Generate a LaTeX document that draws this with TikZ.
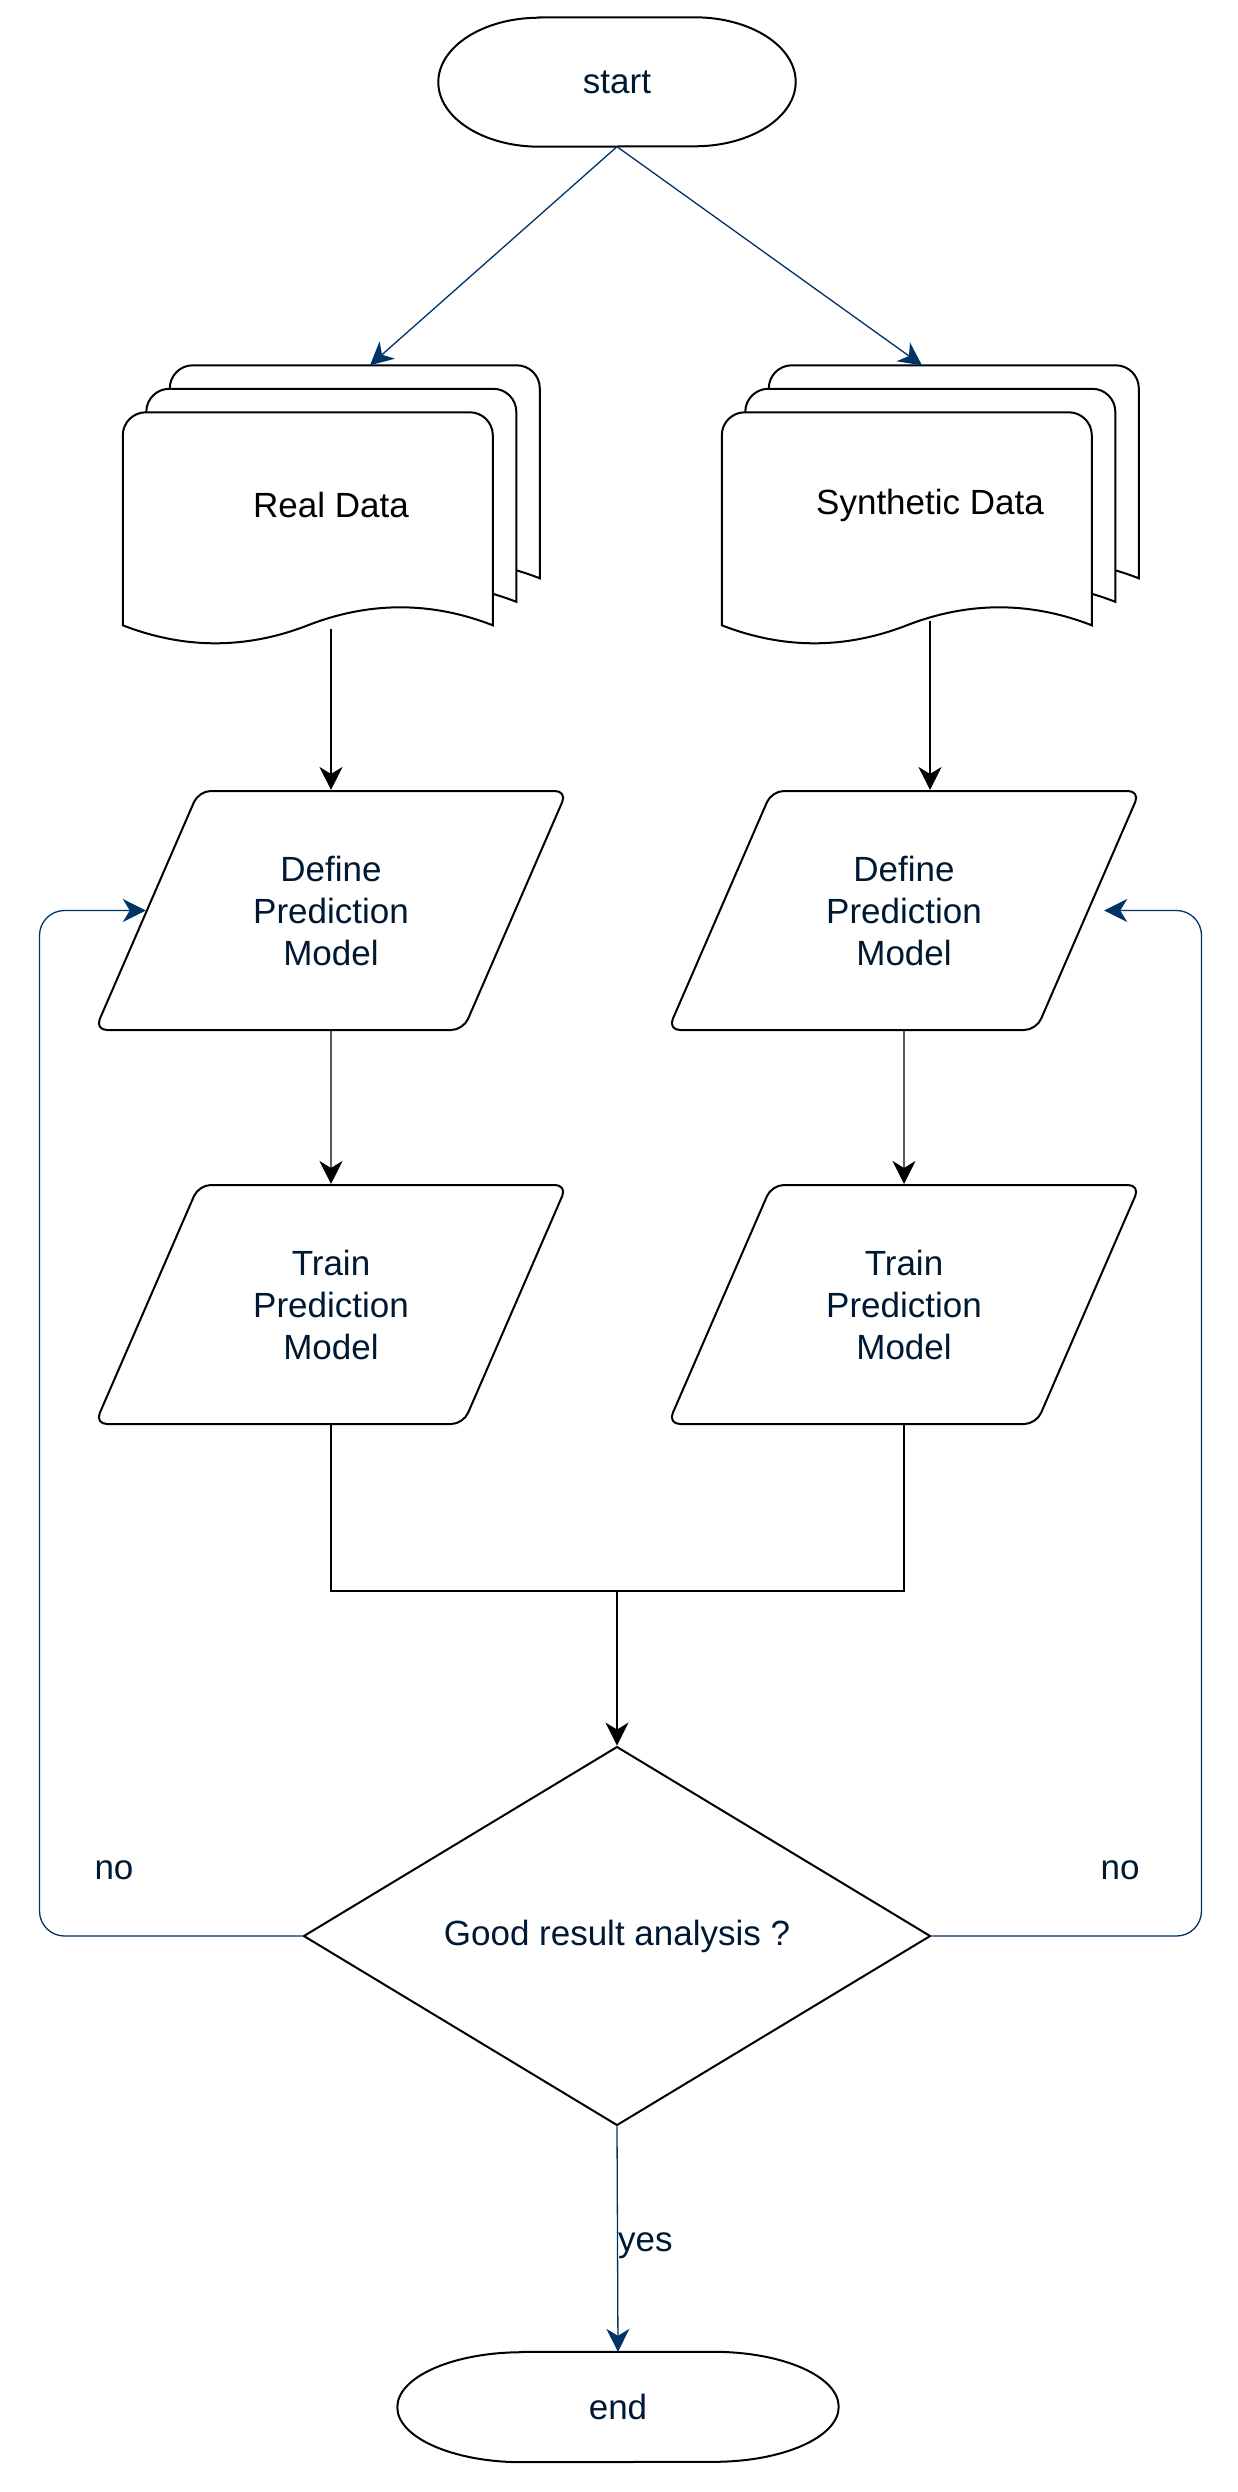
\documentclass[tikz,border=0pt]{standalone}
\usepackage{fontspec}
\setmainfont{Liberation Sans}
\usetikzlibrary{shapes.geometric,arrows.meta,backgrounds}
\definecolor{navy}{RGB}{0,25,51}
\definecolor{linkblue}{RGB}{0,51,102}

\tikzset{
  base/.style={font=\fontsize{35}{42}\selectfont, text=navy, inner sep=0pt},
  outline/.style={line width=2pt},
  stack/.style={base, text=black, minimum width=416pt, minimum height=279pt},
  para/.style={base, draw, outline, trapezium, trapezium left angle=66.5,
    trapezium right angle=113.5, trapezium stretches body, inner ysep=64.5pt,
    minimum width=472pt, minimum height=239pt, rounded corners=12pt, align=center},
  decide/.style={base, draw, outline, diamond, minimum width=627pt, minimum height=365pt},
  plain/.style={line width=1.3pt},
  flow/.style={plain, -{Stealth[length=23pt,width=23pt,inset=7pt]}},
  link/.style={flow, color=linkblue}
}

\begin{document}
\begin{tikzpicture}[x=1pt,y=-1pt]
        \useasboundingbox (0,0) rectangle (1238,2492);

        % terminals
        \node[base, minimum width=357pt, minimum height=129pt] (st) at (617,82) {start};
        \node[base, minimum width=441pt, minimum height=110pt] (en) at (618,2407) {end};
        \foreach \n/\rx/\ry in {st/101/64.5, en/125/55}
            \draw[outline] ([xshift=\rx pt]\n.north west) -- ([xshift=-\rx pt]\n.north east)
                arc[start angle=90, end angle=-90, x radius=\rx pt, y radius=\ry pt]
                -- ([xshift=\rx pt]\n.south west)
                arc[start angle=270, end angle=90, x radius=\rx pt, y radius=\ry pt] -- cycle;

        % data stacks
        \node[stack] (rd) at (331,505) {Real Data};
        \node[stack] (sd) at (930,505) {Synthetic Data};
        \begin{scope}[on background layer]
            \foreach \n in {rd,sd}
                \foreach \k in {2,1,0}
                    \draw[outline, fill=white, shift={(\n.north west)}, shift={(23.5*\k,47-23.5*\k)}]
                        (0,213) -- (0,23) arc[start angle=180, end angle=90, radius=23pt] -- (347,0)
                        arc[start angle=90, end angle=0, radius=23pt] -- (370,213)
                        .. controls (308.3,189) and (246.7,189) .. (185,213)
                        .. controls (123.3,237) and (61.7,237) .. (0,213) -- cycle;
        \end{scope}

        % model steps
        \node[para] (dl) at (331,910.5) {Define\\Prediction\\Model};
        \node[para] (dr) at (904,910.5) {Define\\Prediction\\Model};
        \node[para] (tl) at (331,1304.5) {Train\\Prediction\\Model};
        \node[para] (tr) at (904,1304.5) {Train\\Prediction\\Model};
        \node[decide] (gr) at (617,1936) {Good result analysis ?};
        \coordinate (mg) at (617,1591);

        % connectors
        \draw[link] (st.south) -- ([xshift=39pt]rd.north);
        \draw[link] (st.south) -- ([xshift=-8pt]sd.north);
        \draw[flow] ([yshift=16pt]rd.south) -- (rd.south |- dl.north);
        \draw[flow] ([yshift=24pt]sd.south) -- (sd.south |- dr.north);
        \draw[flow] (dl) -- (tl);
        \draw[flow] (dr) -- (tr);
        \draw[plain] (tl) |- (mg) -| (tr);
        \draw[flow] (mg) -- (gr);
        \draw[link, rounded corners=25pt] (gr.west) -- ++(-263,0) |- (dl.west);
        \draw[link, rounded corners=25pt, shorten >=15pt] (gr.east) -- ++(270,0) |- (dr.east);
        \draw[link] (gr.south) -- node[base, right, pos=.53] (yes) {yes} (en.north);
        \node[base] (nol) at (114,1870) {no};
        \node[base] (nor) at (1120,1870) {no};
\end{tikzpicture}
\end{document}
